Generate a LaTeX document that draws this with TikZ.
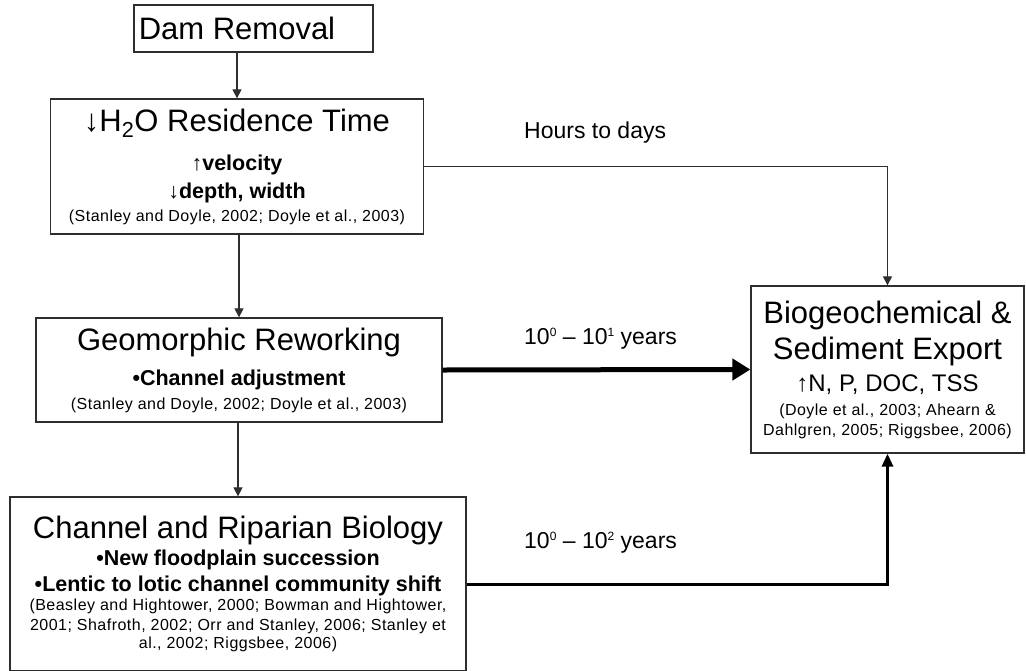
\documentclass[tikz,border=0pt]{standalone}
\usepackage{fontspec}
\setmainfont{Liberation Sans}
\newfontfamily\citefam[LetterSpace=3]{Liberation Sans}
\usetikzlibrary{arrows.meta}
\definecolor{ink}{gray}{0.18}
\newcommand{\headfont}{\fontsize{31}{31}\selectfont}
\newcommand{\pointfont}{\fontsize{21.5}{21.5}\selectfont\bfseries}
\newcommand{\citefont}{\citefam\fontsize{16}{16}\selectfont}
\newcommand{\tagfont}{\fontsize{23}{23}\selectfont}
\newcommand{\tightlines}{\baselineskip 0pt\lineskiplimit -1000pt\relax}
\newcommand{\expo}[1]{\raisebox{0.62ex}{\fontsize{12}{12}\selectfont #1}}

\begin{document}
\begin{tikzpicture}[x=1pt,y=-1pt,
  box/.style={draw=ink, line width=1.3pt, inner sep=0pt, align=center,
    font=\tightlines},
  tag/.style={inner sep=0pt, anchor=base west, font=\tagfont},
  flow/.style={draw=ink, line width=1.2pt, -{Triangle[length=9pt,width=9pt]}},
  slowflow/.style={draw=black, line width=3pt, -{Triangle[length=13pt,width=11pt]}},
  heavyflow/.style={draw=black, line width=5pt, -{Triangle[length=18pt,width=21pt]}}]
\path[fill=white, use as bounding box] (0,0) rectangle (1026,670);

% left column
\node[box, minimum width=239pt, minimum height=47pt] (dam) at (253.5,28.5)
  {{\headfont Dam Removal}\hspace*{33pt}};
\node[box, minimum width=373pt, minimum height=135pt] (h2o) at (237,166.5)
  {{\headfont ↓H\textsubscript{2}O Residence Time}\\[39pt]
   {\pointfont{\mdseries ↑}velocity}\\[28pt]
   {\pointfont{\mdseries ↓}depth, width}\\[23pt]
   {\citefont (Stanley and Doyle, 2002; Doyle et al., 2003)}};
\node[box, minimum width=406pt, minimum height=104pt] (geo) at (239,370)
  {{\headfont Geomorphic Reworking}\\[35pt]
   {\pointfont •Channel adjustment}\\[24pt]
   {\citefont (Stanley and Doyle, 2002; Doyle et al., 2003)}};
\node[box, minimum width=456pt, minimum height=174pt] (chan) at (238,584)
  {{\headfont Channel and Riparian Biology}\\[27pt]
   {\pointfont •New floodplain succession}\\[26pt]
   {\pointfont •Lentic to lotic channel community shift}\\[19pt]
   {\citefont (Beasley and Hightower, 2000; Bowman and Hightower,}\\[20pt]
   {\citefont 2001; Shafroth, 2002; Orr and Stanley, 2006; Stanley et}\\[18pt]
   {\citefont al., 2002; Riggsbee, 2006)}};

% export box
\node[box, minimum width=273pt, minimum height=167pt] (bio) at (887.5,369.5)
  {{\headfont Biogeochemical \&}\\[36pt]
   {\headfont Sediment Export}\\[32pt]
   {\fontsize{24}{24}\selectfont ↑N, P, DOC, TSS}\\[24pt]
   {\citefont (Doyle et al., 2003; Ahearn \&}\\[20pt]
   {\citefont Dahlgren, 2005; Riggsbee, 2006)}};

% time scales
\node[tag] (hours) at (524,138) {Hours to days};
\node[tag] (decade) at (524,344) {10\expo{0} – 10\expo{1} years};
\node[tag] (century) at (524,548) {10\expo{0} – 10\expo{2} years};

\draw[flow] (dam.south -| h2o.north) -- (h2o.north);
\draw[flow] (h2o.south -| geo.north) -- (geo.north);
\draw[flow] (geo.south -| chan.north) -- (chan.north);
\draw[flow] (h2o.east) -| (bio.north);
\draw[heavyflow] (geo.east) -- (bio.west);
\draw[slowflow] (chan.east) -| (bio.south);
\end{tikzpicture}
\end{document}
